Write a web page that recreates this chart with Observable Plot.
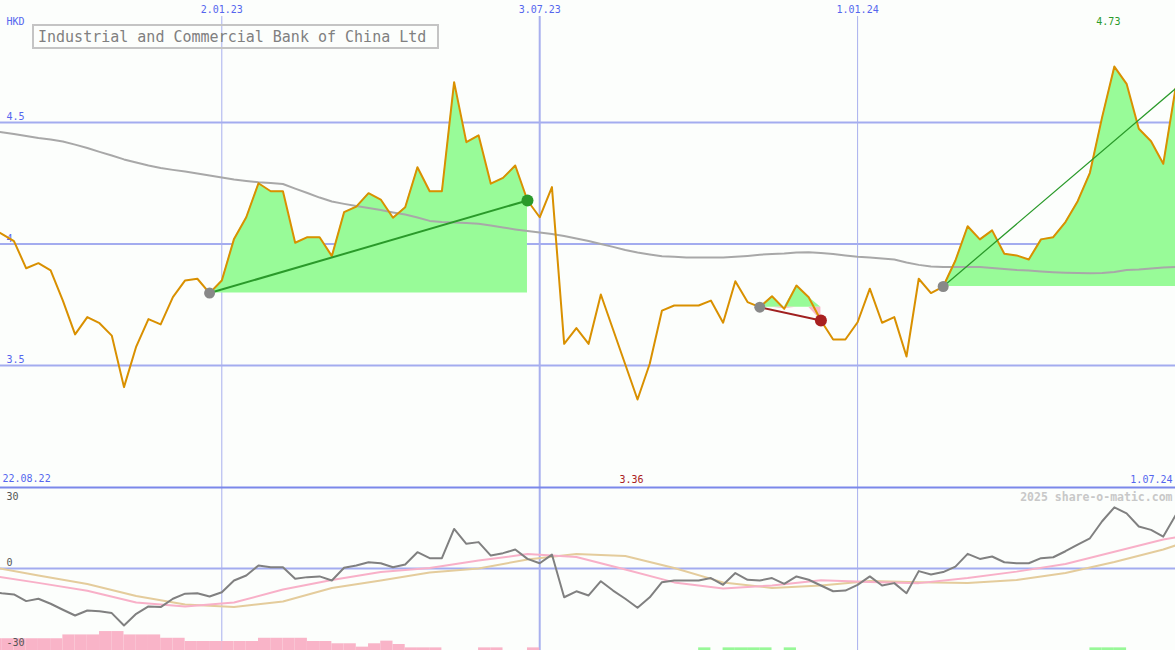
<!DOCTYPE html>
<html><head><meta charset="utf-8">
<script src="https://cdn.jsdelivr.net/npm/d3@7"></script>
<script src="https://cdn.jsdelivr.net/npm/@observablehq/plot@0.6"></script>
<style>
body{margin:0;background:#fcfefc;}
#wrap{position:relative;width:1175px;height:650px;overflow:hidden;background:#fcfefc}
#wrap svg{display:block;overflow:hidden}
#title{position:absolute;left:32px;top:24px;width:407px;height:25px;box-sizing:border-box;border:2px solid #c4c4c4;
 font:15px "DejaVu Sans Mono",monospace;color:#808080;padding:1px 0 0 4px;line-height:21px;white-space:pre;}
</style></head><body><div id="wrap"><div id="title"></div></div>
<script>
// ---------- data ----------
const title = "Industrial and Commercial Bank of China Ltd";
const currency = "HKD";
const watermark = "2025 share-o-matic.com";
const firstWeek = "2022-08-22", lastWeek = "2024-07-01";
const tickDates = ["2023-01-02", "2023-07-03", "2024-01-01"];
const priceGrid = [4.5, 4, 3.5];
const indicatorLabels = ["30", "0", "-30"];

// weekly closing price (HKD)
const price = [4.07,4.042,4.012,3.90,3.921,3.891,3.767,3.628,3.699,3.674,
 3.623,3.411,3.578,3.691,3.669,3.781,3.850,3.857,3.798,3.850,
 4.021,4.110,4.250,4.217,4.217,4.005,4.028,4.028,3.950,4.131,
 4.154,4.209,4.183,4.108,4.151,4.316,4.217,4.217,4.666,4.419,
 4.447,4.248,4.272,4.323,4.179,4.110,4.234,3.589,3.654,3.589,
 3.792,3.648,3.504,3.36,3.507,3.726,3.747,3.747,3.747,3.767,
 3.676,3.847,3.761,3.740,3.785,3.733,3.829,3.781,3.685,3.607,
 3.607,3.678,3.816,3.676,3.699,3.537,3.857,3.798,3.825,3.932,
 4.073,4.019,4.056,3.960,3.953,3.936,4.019,4.028,4.090,4.176,
 4.293,4.522,4.73,4.659,4.474,4.423,4.330,4.639];

// long moving average (grey)
const priceMA = [4.467,4.460,4.453,4.444,4.436,4.430,4.422,4.409,4.395,4.379,
 4.364,4.348,4.335,4.323,4.313,4.305,4.298,4.290,4.282,4.274,
 4.265,4.259,4.254,4.251,4.247,4.228,4.210,4.191,4.175,4.165,
 4.156,4.148,4.140,4.130,4.121,4.109,4.095,4.090,4.088,4.086,
 4.083,4.076,4.068,4.060,4.053,4.047,4.041,4.033,4.023,4.012,
 4.000,3.988,3.975,3.965,3.957,3.950,3.947,3.944,3.944,3.944,
 3.944,3.947,3.951,3.956,3.959,3.961,3.965,3.966,3.963,3.959,
 3.953,3.947,3.944,3.940,3.936,3.924,3.914,3.907,3.905,3.905,
 3.905,3.905,3.901,3.897,3.893,3.891,3.887,3.884,3.882,3.881,
 3.880,3.881,3.885,3.893,3.895,3.899,3.903,3.905];

// indicator (grey line)
const momentum = [-9.5,-10.3,-10.8,-13.6,-12.6,-14.7,-17.2,-19.6,-17.5,-17.8,
 -18.6,-23.75,-18.9,-15.8,-16.1,-12.6,-10.5,-10.3,-11.7,-9.9,
 -5.0,-2.9,1.25,0.5,0.5,-4.3,-3.6,-3.3,-5.0,0.3,
 1.25,2.6,2.2,0.5,1.7,6.8,4.3,4.3,16.5,10.3,
 11.0,5.4,6.4,7.9,4.0,2.2,5.8,-12.0,-9.5,-11.25,
 -5.3,-9.2,-12.6,-16.4,-12.0,-5.7,-5.0,-5.0,-5.0,-4.0,
 -6.8,-1.9,-4.7,-5.0,-4.0,-6.4,-3.3,-4.7,-7.1,-9.5,
 -9.2,-6.8,-3.3,-7.1,-6.1,-10.3,-1.1,-2.5,-1.5,0.8,
 6.1,4.0,5.0,2.6,2.2,2.2,4.3,4.7,7.2,10.0,
 12.6,19.7,25.5,23.0,17.5,16.1,13.3,22.1];

// histogram (negative = pink, positive = green)
const histo = [-4.9,-4.9,-4.9,-4.9,-4.9,-4.9,-6.5,-6.5,-6.5,-7.9,
 -7.9,-6.5,-6.5,-6.5,-5.1,-5.1,-3.75,-3.75,-3.75,-3.75,
 -3.75,-3.75,-5.1,-5.1,-5.1,-5.1,-3.75,-3.75,-2.8,-2.8,
 -1.4,-2.8,-3.9,-2.5,-1.1,-1.1,-1.1,0,0,0,
 -1.1,-1.1,0,0,-1.1,0,0,0,0,0,
 0,0,0,0,0,0,0,0,1.1,0,
 1.1,1.1,1.1,1.1,0,1.1,0,0,0,0,
 0,0,0,0,0,0,0,0,0,0,
 0,0,0,0,0,0,0,0,0,0,
 1.1,1.1,1.1,0,0,0,0,0];

// smoothed indicator lines (sampled every 4 weeks)
const smoothDates = ["2022-08-22","2022-09-19","2022-10-17","2022-11-14","2022-12-12","2023-01-09",
 "2023-02-06","2023-03-06","2023-04-03","2023-05-01","2023-05-29","2023-06-26","2023-07-24",
 "2023-08-21","2023-09-18","2023-10-16","2023-11-13","2023-12-11","2024-01-08","2024-02-05",
 "2024-03-04","2024-04-01","2024-04-29","2024-05-27","2024-06-24","2024-07-01"];
const pinkLine = [-2.9,-6.0,-9.3,-14.2,-15.8,-14.2,-8.75,-4.8,-1.5,0.2,3.3,6.0,4.8,
 -0.4,-5.8,-8.3,-7.1,-4.9,-5.6,-6.1,-4.0,-1.3,1.9,7.0,12.1,13.0];
const tanLine = [0.8,-2.9,-6.5,-11.5,-15.0,-16.1,-13.75,-8.1,-5.0,-1.7,0,3.75,6.0,
 5.2,0.2,-5.8,-8.1,-7.1,-5.2,-5.75,-6.0,-4.8,-1.9,2.7,7.9,9.6];

// trend signals
const signalStart = ["2022-12-26", "2023-11-06", "2024-02-19"];
const signalEnd   = ["2023-06-26", "2023-12-11", "2024-07-01"];
const signalOpen  = [false, false, true];

// ---------- build ----------
const W = 1175, topH = 486, botH = 164;
const dates = d3.utcMonday.range(new Date(firstWeek), d3.utcDay.offset(new Date(lastWeek), 1));
const rows = dates.map((d, i) => ({date: d, next: dates[i + 1] || d3.utcDay.offset(d, 7),
  price: price[i], ma: priceMA[i], mom: momentum[i], hist: histo[i]}));
const smooth = smoothDates.map((s, i) => ({date: new Date(s), pink: pinkLine[i], tan: tanLine[i]}));
const ticks = tickDates.map(s => new Date(s));
const fmt = d3.utcFormat("%-d.%m.%y");
const idx = s => dates.findIndex(d => +d === +new Date(s));

const xOpt = {type: "utc", domain: [dates[0], dates[dates.length - 1]], range: [-11, W], axis: null};
const font = "DejaVu Sans Mono";
const blue = "#5566ee", gridC = "#a3acef";

const regions = signalStart.map((s, k) => {
  const i0 = idx(s), i1 = idx(signalEnd[k]);
  const base = price[i0];
  const pts = rows.slice(i0, i1 + 1).map(r => ({...r, base, up: Math.max(r.price, base), down: Math.min(r.price, base)}));
  return {pts, start: rows[i0], end: rows[i1], open: signalOpen[k], rising: rows[i1].price >= base};
});

const iMax = d3.maxIndex(price), iMin = d3.minIndex(price);

const topMarks = [
  Plot.ruleY(priceGrid, {stroke: gridC, strokeWidth: 2}),
  Plot.ruleX(ticks, {stroke: "#a8b0ee", strokeWidth: d => d.getUTCMonth() === 6 ? 2 : 1, insetTop: 16}),
  Plot.text(ticks, {x: d => d, text: d => fmt(d), frameAnchor: "top", lineAnchor: "middle", dy: 9.5, fill: blue, fontSize: 10, fontFamily: font}),
  Plot.text(priceGrid, {y: d => d, text: d => String(d), frameAnchor: "left", textAnchor: "start", lineAnchor: "middle", dx: 6, dy: -5.5, fill: blue, fontSize: 10, fontFamily: font}),
  ...regions.flatMap(r => [
    Plot.areaY(r.pts, {x: "date", y1: "base", y2: "up", fill: "#98fb98", clip: true}),
    Plot.areaY(r.pts, {x: "date", y1: "base", y2: "down", fill: "#f9b8c8", clip: true})
  ]),
  Plot.line(rows, {x: "date", y: "ma", stroke: "#a8a8a8", strokeWidth: 2, clip: true}),
  Plot.line(rows, {x: "date", y: "price", stroke: "#d99000", strokeWidth: 2, clip: true}),
  ...regions.map(r => Plot.line([r.start, r.end], {x: "date", y: "price",
    stroke: r.rising ? "#2a9a2a" : "#a02020", strokeWidth: r.open ? 1.3 : 2, clip: true})),
  Plot.dot(regions.map(r => r.start), {x: "date", y: "price", r: 5.5, fill: "#888888"}),
  Plot.dot(regions.filter(r => !r.open), {x: r => r.end.date, y: r => r.end.price, r: 6,
    fill: r => r.rising ? "#2a9a2a" : "#a82020"}),
  Plot.text([currency], {frameAnchor: "top-left", textAnchor: "start", lineAnchor: "middle", dx: 6, dy: 21.5, fill: blue, fontSize: 10, fontFamily: font}),
  Plot.text([rows[iMax]], {x: "date", text: d => d.price.toFixed(2), frameAnchor: "top", lineAnchor: "middle", dx: -6, dy: 21.5, fill: "#2a9a2a", fontSize: 10, fontFamily: font}),
  Plot.text([rows[iMin]], {x: "date", text: d => d.price.toFixed(2), frameAnchor: "bottom", lineAnchor: "middle", dx: -6, dy: -7, fill: "#aa2020", fontSize: 10, fontFamily: font}),
  Plot.text([dates[0]], {text: d => fmt(d), frameAnchor: "bottom-left", textAnchor: "start", lineAnchor: "middle", dx: 2, dy: -7.5, fill: blue, fontSize: 10, fontFamily: font}),
  Plot.text([dates[dates.length - 1]], {text: d => fmt(d), frameAnchor: "bottom-right", textAnchor: "end", lineAnchor: "middle", dx: -3, dy: -7, fill: blue, fontSize: 10, fontFamily: font})
];

const topPlot = Plot.plot({
  width: W, height: topH, marginTop: 0, marginRight: 0, marginBottom: 0, marginLeft: 0,
  x: xOpt,
  y: {domain: [3.002, 5.002], axis: null},
  style: {background: "#fcfefc", fontFamily: font, fontSize: "10px", overflow: "hidden"},
  marks: topMarks
});

const indDomain = [-34.2, 34.2];
const botPlot = Plot.plot({
  width: W, height: botH, marginTop: 0, marginRight: 0, marginBottom: 0, marginLeft: 0,
  x: xOpt,
  y: {domain: indDomain, axis: null},
  style: {background: "#fcfefc", fontFamily: font, fontSize: "10px", overflow: "hidden"},
  marks: [
    Plot.ruleY([0], {stroke: gridC, strokeWidth: 2}),
    Plot.ruleX(ticks, {stroke: "#a8b0ee", strokeWidth: d => d.getUTCMonth() === 6 ? 2 : 1}),
    Plot.rectY(rows.filter(d => d.hist < 0), {x1: "date", x2: "next", y1: indDomain[0], y2: d => indDomain[0] - d.hist, fill: "#f9b4c8", clip: true}),
    Plot.rectY(rows.filter(d => d.hist > 0), {x1: "date", x2: "next", y1: indDomain[0], y2: d => indDomain[0] + d.hist, fill: "#98f898", clip: true}),
    Plot.line(smooth, {x: "date", y: "tan", stroke: "#e4cc9c", strokeWidth: 2, clip: true}),
    Plot.line(smooth, {x: "date", y: "pink", stroke: "#f8b0c8", strokeWidth: 2, clip: true}),
    Plot.line(rows, {x: "date", y: "mom", stroke: "#808080", strokeWidth: 2, clip: true}),
    Plot.ruleY([indDomain[1]], {stroke: "#7b88ea", strokeWidth: 2, dy: 1}),
    Plot.text([indicatorLabels[0]], {frameAnchor: "top-left", textAnchor: "start", lineAnchor: "middle", dx: 6, dy: 10, fill: "#555", fontSize: 10, fontFamily: font}),
    Plot.text([indicatorLabels[1]], {y: 0, text: d => d, frameAnchor: "left", textAnchor: "start", lineAnchor: "middle", dx: 6, dy: -6, fill: "#555", fontSize: 10, fontFamily: font}),
    Plot.text([indicatorLabels[2]], {frameAnchor: "bottom-left", textAnchor: "start", lineAnchor: "middle", dx: 6, dy: -7.5, fill: "#555", fontSize: 10, fontFamily: font}),
    Plot.text([watermark], {frameAnchor: "top-right", textAnchor: "end", lineAnchor: "middle", dx: -3, dy: 10.5, fill: "#c8c8c8", fontSize: 11.5, fontWeight: "bold", fontFamily: font})
  ]
});

const wrap = document.getElementById("wrap");
wrap.insertBefore(botPlot, wrap.firstChild);
wrap.insertBefore(topPlot, wrap.firstChild);
document.getElementById("title").textContent = title;
</script>
</body></html>
